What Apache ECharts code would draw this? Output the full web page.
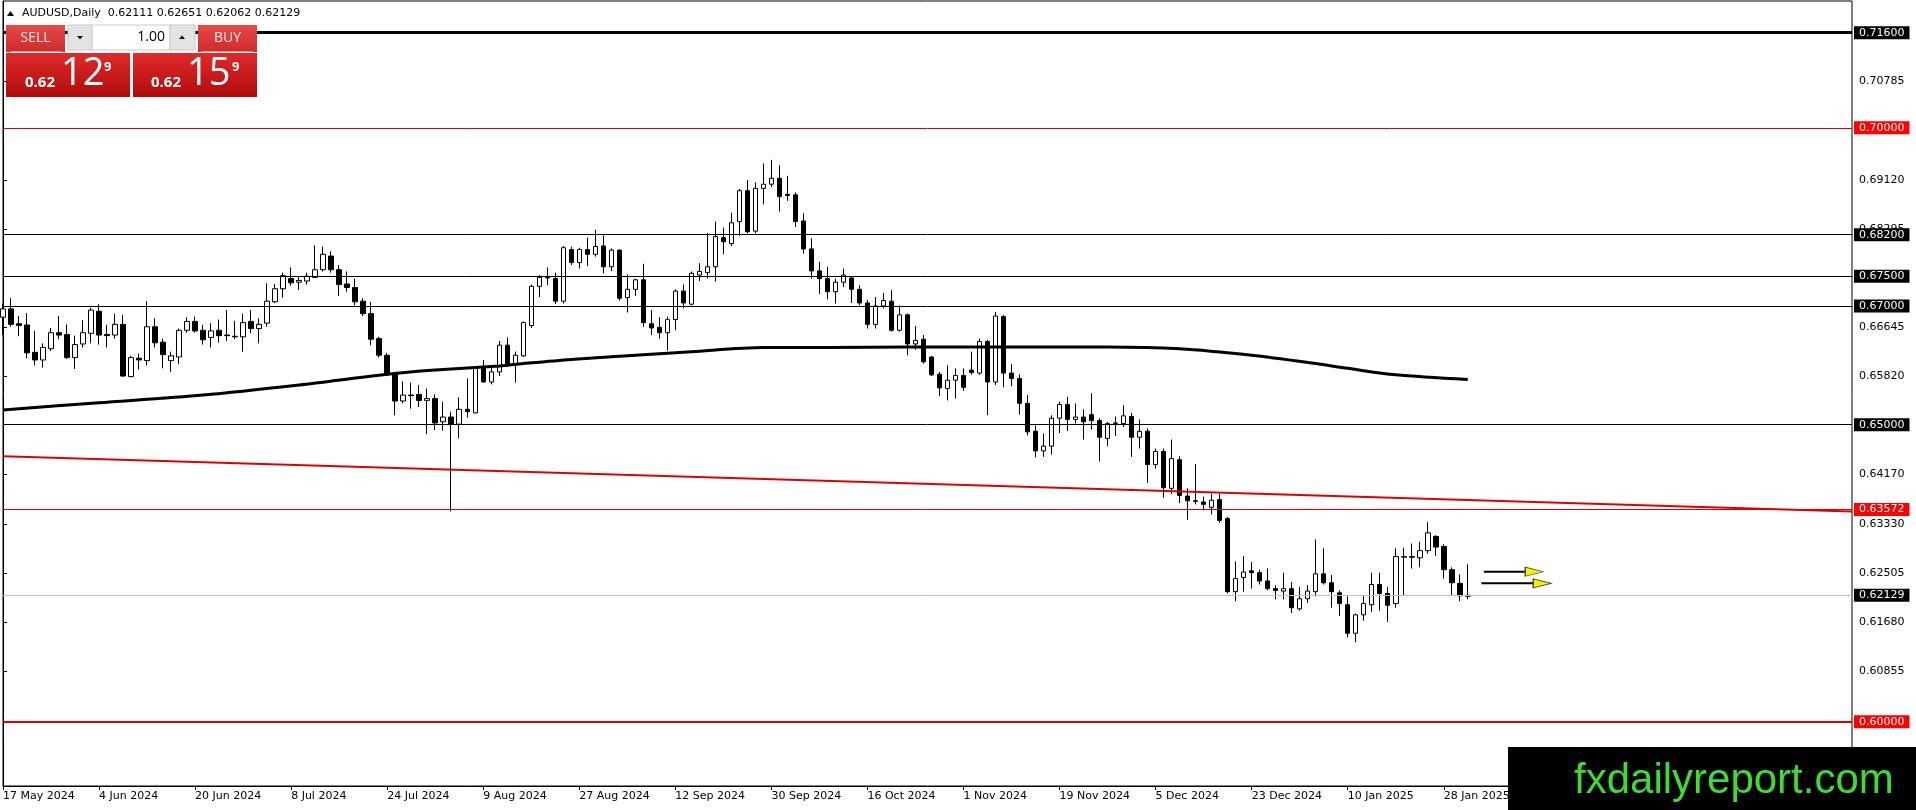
<!DOCTYPE html>
<html>
<head>
<meta charset="utf-8">
<script src="https://cdn.jsdelivr.net/npm/echarts@6/dist/echarts.min.js"></script>
<style>
html,body{margin:0;padding:0;background:#fff;}
#chart{width:1916px;height:810px;}
</style>
</head>
<body>
<div id="chart"></div>
<script>
// ---- data ----
const tickLabels = ['17 May 2024','4 Jun 2024','20 Jun 2024','8 Jul 2024','24 Jul 2024','9 Aug 2024','27 Aug 2024','12 Sep 2024','30 Sep 2024','16 Oct 2024','1 Nov 2024','19 Nov 2024','5 Dec 2024','23 Dec 2024','10 Jan 2025','28 Jan 2025'];
const labelStep = 12;
const slotCount = 232;

// [open, close, low, high] per daily bar
const ohlc = [
[0.6681,0.6695,0.6651,0.6704],[0.6695,0.6669,0.6665,0.6713],[0.6670,0.6667,0.6649,0.6683],[0.6668,0.6621,0.6612,0.6688],
[0.6622,0.6609,0.6600,0.6658],[0.6609,0.6630,0.6596,0.6637],[0.6628,0.6655,0.6624,0.6663],[0.6655,0.6651,0.6644,0.6683],
[0.6652,0.6613,0.6611,0.6669],[0.6613,0.6635,0.6594,0.6650],[0.6636,0.6655,0.6630,0.6676],[0.6654,0.6693,0.6637,0.6697],
[0.6691,0.6651,0.6635,0.6703],[0.6652,0.6650,0.6630,0.6668],[0.6651,0.6669,0.6645,0.6687],[0.6669,0.6582,0.6581,0.6685],
[0.6581,0.6613,0.6580,0.6616],[0.6612,0.6609,0.6593,0.6620],[0.6608,0.6665,0.6600,0.6708],[0.6665,0.6638,0.6630,0.6679],
[0.6639,0.6618,0.6595,0.6645],[0.6608,0.6616,0.6589,0.6623],[0.6614,0.6659,0.6602,0.6662],[0.6659,0.6674,0.6655,0.6681],
[0.6674,0.6658,0.6655,0.6682],[0.6659,0.6643,0.6635,0.6668],[0.6647,0.6658,0.6630,0.6671],[0.6659,0.6650,0.6638,0.6677],
[0.6651,0.6650,0.6641,0.6693],[0.6649,0.6648,0.6644,0.6675],[0.6648,0.6672,0.6623,0.6687],[0.6674,0.6662,0.6654,0.6693],
[0.6662,0.6669,0.6637,0.6679],[0.6671,0.6708,0.6665,0.6738],[0.6707,0.6729,0.6705,0.6737],[0.6729,0.6751,0.6714,0.6756],
[0.6746,0.6739,0.6734,0.6765],[0.6740,0.6743,0.6727,0.6750],[0.6742,0.6750,0.6736,0.6756],[0.6748,0.6761,0.6747,0.6802],
[0.6761,0.6787,0.6758,0.6800],[0.6784,0.6761,0.6756,0.6792],[0.6761,0.6736,0.6717,0.6769],[0.6737,0.6731,0.6724,0.6758],
[0.6731,0.6707,0.6701,0.6746],[0.6708,0.6687,0.6683,0.6713],[0.6687,0.6644,0.6634,0.6707],[0.6645,0.6617,0.6613,0.6648],
[0.6617,0.6584,0.6582,0.6621],[0.6586,0.6540,0.6516,0.6587],[0.6540,0.6550,0.6536,0.6573],[0.6550,0.6549,0.6527,0.6571],
[0.6551,0.6541,0.6530,0.6567],[0.6541,0.6544,0.6484,0.6561],[0.6544,0.6503,0.6491,0.6551],[0.6505,0.6513,0.6490,0.6539],
[0.6513,0.6501,0.6354,0.6522],[0.6501,0.6526,0.6477,0.6546],[0.6526,0.6522,0.6512,0.6578],[0.6520,0.6595,0.6519,0.6596],
[0.6595,0.6572,0.6571,0.6609],[0.6572,0.6589,0.6568,0.6600],[0.6589,0.6634,0.6582,0.6641],[0.6634,0.6602,0.6598,0.6647],
[0.6603,0.6617,0.6571,0.6623],[0.6616,0.6672,0.6614,0.6674],[0.6667,0.6733,0.6663,0.6736],[0.6733,0.6748,0.6715,0.6752],
[0.6748,0.6747,0.6735,0.6765],[0.6746,0.6708,0.6703,0.6756],[0.6708,0.6798,0.6704,0.6801],[0.6795,0.6773,0.6769,0.6800],
[0.6773,0.6795,0.6763,0.6798],[0.6795,0.6787,0.6767,0.6815],[0.6787,0.6800,0.6783,0.6828],[0.6801,0.6766,0.6755,0.6819],
[0.6766,0.6794,0.6759,0.6797],[0.6794,0.6713,0.6709,0.6795],[0.6714,0.6728,0.6689,0.6753],[0.6728,0.6744,0.6717,0.6746],
[0.6744,0.6672,0.6665,0.6771],[0.6670,0.6663,0.6651,0.6693],[0.6664,0.6655,0.6645,0.6681],[0.6655,0.6677,0.6625,0.6682],
[0.6677,0.6725,0.6659,0.6728],[0.6725,0.6705,0.6696,0.6736],[0.6703,0.6755,0.6701,0.6758],[0.6752,0.6758,0.6742,0.6772],
[0.6756,0.6766,0.6746,0.6823],[0.6766,0.6817,0.6741,0.6842],[0.6815,0.6808,0.6787,0.6832],[0.6805,0.6840,0.6801,0.6857],
[0.6842,0.6894,0.6818,0.6897],[0.6894,0.6825,0.6822,0.6912],[0.6826,0.6898,0.6822,0.6908],[0.6898,0.6905,0.6871,0.6940],
[0.6905,0.6915,0.6900,0.6946],[0.6915,0.6884,0.6859,0.6937],[0.6888,0.6886,0.6877,0.6919],[0.6887,0.6842,0.6833,0.6891],
[0.6843,0.6796,0.6788,0.6856],[0.6796,0.6759,0.6746,0.6814],[0.6759,0.6746,0.6720,0.6774],[0.6746,0.6724,0.6711,0.6766],
[0.6724,0.6740,0.6704,0.6746],[0.6740,0.6752,0.6732,0.6763],[0.6747,0.6728,0.6705,0.6749],[0.6728,0.6705,0.6701,0.6735],
[0.6705,0.6669,0.6662,0.6710],[0.6669,0.6700,0.6662,0.6715],[0.6700,0.6709,0.6696,0.6722],[0.6708,0.6659,0.6657,0.6727],
[0.6659,0.6685,0.6657,0.6701],[0.6685,0.6636,0.6617,0.6687],[0.6636,0.6642,0.6626,0.6666],[0.6644,0.6606,0.6603,0.6651],
[0.6614,0.6584,0.6582,0.6616],[0.6585,0.6562,0.6548,0.6589],[0.6561,0.6575,0.6541,0.6600],[0.6575,0.6583,0.6544,0.6595],
[0.6583,0.6563,0.6557,0.6595],[0.6592,0.6588,0.6584,0.6623],[0.6587,0.6640,0.6584,0.6645],[0.6640,0.6572,0.6516,0.6643],
[0.6572,0.6683,0.6567,0.6690],[0.6682,0.6587,0.6563,0.6685],[0.6587,0.6578,0.6565,0.6602],[0.6578,0.6536,0.6517,0.6585],
[0.6536,0.6488,0.6482,0.6550],[0.6489,0.6456,0.6445,0.6499],[0.6456,0.6464,0.6446,0.6485],[0.6464,0.6511,0.6450,0.6516],
[0.6511,0.6534,0.6486,0.6539],[0.6534,0.6509,0.6489,0.6547],[0.6509,0.6513,0.6502,0.6536],[0.6513,0.6505,0.6475,0.6526],
[0.6517,0.6507,0.6492,0.6553],[0.6507,0.6479,0.6438,0.6511],[0.6477,0.6502,0.6464,0.6505],[0.6502,0.6503,0.6481,0.6514],
[0.6502,0.6515,0.6496,0.6533],[0.6514,0.6479,0.6446,0.6520],[0.6479,0.6489,0.6460,0.6509],[0.6489,0.6433,0.6402,0.6494],
[0.6433,0.6455,0.6426,0.6460],[0.6455,0.6394,0.6377,0.6460],[0.6393,0.6443,0.6383,0.6475],[0.6441,0.6381,0.6368,0.6447],
[0.6380,0.6372,0.6340,0.6393],[0.6372,0.6371,0.6366,0.6434],[0.6370,0.6366,0.6356,0.6379],[0.6361,0.6373,0.6349,0.6384],
[0.6374,0.6339,0.6335,0.6384],[0.6342,0.6219,0.6216,0.6345],[0.6219,0.6241,0.6203,0.6270],[0.6243,0.6252,0.6219,0.6279],
[0.6254,0.6251,0.6224,0.6269],[0.6251,0.6237,0.6231,0.6256],[0.6237,0.6224,0.6221,0.6258],[0.6224,0.6221,0.6206,0.6230],
[0.6220,0.6224,0.6206,0.6251],[0.6224,0.6192,0.6183,0.6235],[0.6190,0.6207,0.6187,0.6227],[0.6207,0.6220,0.6200,0.6230],
[0.6219,0.6249,0.6211,0.6307],[0.6249,0.6234,0.6231,0.6292],[0.6234,0.6219,0.6192,0.6247],[0.6217,0.6199,0.6178,0.6221],
[0.6197,0.6149,0.6142,0.6211],[0.6149,0.6180,0.6134,0.6182],[0.6180,0.6199,0.6170,0.6213],[0.6197,0.6231,0.6185,0.6251],
[0.6231,0.6216,0.6187,0.6251],[0.6216,0.6196,0.6168,0.6227],[0.6199,0.6278,0.6192,0.6292],[0.6277,0.6278,0.6213,0.6293],
[0.6278,0.6277,0.6258,0.6300],[0.6276,0.6288,0.6260,0.6303],[0.6288,0.6318,0.6283,0.6336],[0.6312,0.6294,0.6279,0.6314],
[0.6295,0.6256,0.6241,0.6299],[0.6256,0.6234,0.6213,0.6260],[0.6233,0.6212,0.6203,0.6248],[0.62111,0.62129,0.62062,0.62651]
];

// moving average read at sampled bars: [bar index, value]
const maPoints = [[0,0.6525],[12,0.6537],[25,0.6550],[37,0.6567],[48,0.6585],[54,0.6592],[62,0.6599],[65,0.6603],
[71,0.6610],[78,0.6616],[86,0.6623],[95,0.6630],[103,0.6630],[113,0.6631],[121,0.6631],[130,0.6631],[138,0.6631],
[147,0.6628],[156,0.6617],[164,0.6603],[168,0.6595],[174,0.6584],[183,0.6576]];

// red trend line end points [bar index, price]
const trendLine = [[0,0.6447],[231,0.6354]];

// horizontal levels
const blackLevels = [0.682,0.675,0.670,0.650];
const redLevels = [0.700,0.63572];
const topLevel = 0.716;
const bottomLevel = 0.600;
const bidLevel = 0.62129;

// y-axis tick labels
const yTicks = [0.70785,0.69120,0.68295,0.66645,0.65820,0.64170,0.63330,0.62505,0.61680,0.60855];
const yMin = 0.58918, yMax = 0.72134;

// arrows [start index, end index, head index, price]
const arrows = [[185.0,190.2,191.3,0.62526],[184.7,191.2,192.3,0.62330]];

const titleText = 'AUDUSD,Daily  0.62111 0.62651 0.62062 0.62129';

// ---- build ----
const categories = [];
for (let i = 0; i < slotCount; i++) categories.push(String(i));
const FONT = 'DejaVu Sans';

function lvlLabel(txt, bg) {
  return {show:true, position:'end', distance:2, formatter: txt, backgroundColor:bg, color:'#fff',
    fontFamily:FONT, fontSize:11, lineHeight:12, padding:[1,5,0,5]};
}
const mlData = [];
mlData.push({yAxis: topLevel, lineStyle:{color:'#000', width:3, type:'solid'}, label: lvlLabel(topLevel.toFixed(5), '#000')});
redLevels.forEach(v => mlData.push({yAxis:v, lineStyle:{color:'#e00000', width:1, type:'solid'}, label: lvlLabel(v.toFixed(5), '#ff0000')}));
blackLevels.forEach(v => mlData.push({yAxis:v, lineStyle:{color:'#000', width:1, type:'solid'}, label: lvlLabel(v.toFixed(5), '#000')}));
mlData.push({yAxis: bidLevel, lineStyle:{color:'#c0c0c0', width:1, type:'solid'}, label: lvlLabel(bidLevel.toFixed(5), '#000')});
mlData.push({yAxis: bottomLevel, lineStyle:{color:'#e00000', width:2, type:'solid'}, label: lvlLabel(bottomLevel.toFixed(5), '#ff0000')});

const showIdx = (idx) => idx % labelStep === 0 && idx / labelStep < tickLabels.length;

const series = [
  {
    type:'candlestick', name:'AUDUSD', xAxisIndex:0, yAxisIndex:0, data: ohlc, barWidth:5, z:2,
    itemStyle:{color:'#ffffff', color0:'#000000', borderColor:'#000000', borderColor0:'#000000', borderColorDoji:'#000000', borderWidth:1}
  },
  {
    type:'line', name:'trend', xAxisIndex:1, yAxisIndex:0, data: trendLine, symbol:'none', z:3,
    lineStyle:{color:'#e00000', width:2},
    markLine:{silent:true, precision:5, symbol:['none','none'], animation:false, data: mlData}
  },
  {
    type:'line', name:'MA', xAxisIndex:1, yAxisIndex:0, data: maPoints, symbol:'none', smooth:0.3, z:4,
    lineStyle:{color:'#000', width:3}
  }
];
arrows.forEach((a, k) => {
  series.push({type:'line', name:'arrow'+k, xAxisIndex:1, yAxisIndex:0, data:[[a[0],a[3]],[a[1],a[3]]], symbol:'none', z:5,
    lineStyle:{color:'#000', width:2}});
});
series.push({type:'scatter', name:'heads', xAxisIndex:1, yAxisIndex:0, data: arrows.map(a => [a[2], a[3]]),
  symbol:'triangle', symbolSize:[9,18], symbolRotate:-90, z:6,
  itemStyle:{color:'#f2f200', borderColor:'#444', borderWidth:1, opacity:1}});

const redGrad = (c1, c2) => new echarts.graphic.LinearGradient(0,0,0,1,[{offset:0,color:c1},{offset:1,color:c2}]);

const graphic = [
  {type:'polygon', z:100, shape:{points:[[7,16],[10.5,11],[14,16]]}, style:{fill:'#000'}},
  {type:'text', z:100, x:22, y:13, style:{text:titleText, font:'11px "DejaVu Sans"', fill:'#000', verticalAlign:'middle'}},
  // SELL header
  {type:'rect', z:100, shape:{x:6,y:25,width:59,height:27}, style:{fill:redGrad('#e44a48','#cf2b2b')}},
  {type:'line', z:101, shape:{x1:10,y1:51.5,x2:62,y2:51.5}, style:{stroke:'#f08a8a', lineWidth:1}},
  {type:'text', z:101, x:35.5, y:38.5, style:{text:'SELL', font:'14px "Open Sans"', fill:'#ffe8e8', align:'center', verticalAlign:'middle'}},
  // lot controls
  {type:'rect', z:100, shape:{x:68,y:25,width:24,height:25}, style:{fill:'#e4e4e4', stroke:'#c8c8c8', lineWidth:1}},
  {type:'polygon', z:101, shape:{points:[[77,36],[83,36],[80,39.5]]}, style:{fill:'#000'}},
  {type:'rect', z:100, shape:{x:92,y:25,width:78,height:25}, style:{fill:'#fff', stroke:'#c8c8c8', lineWidth:1}},
  {type:'text', z:101, x:165, y:37.5, style:{text:'1.00', font:'14px "Open Sans"', fill:'#000', align:'right', verticalAlign:'middle'}},
  {type:'rect', z:100, shape:{x:170,y:25,width:25,height:25}, style:{fill:'#e4e4e4', stroke:'#c8c8c8', lineWidth:1}},
  {type:'polygon', z:101, shape:{points:[[179,39],[185,39],[182,35.5]]}, style:{fill:'#000'}},
  // BUY header
  {type:'rect', z:100, shape:{x:198,y:25,width:59,height:27}, style:{fill:redGrad('#e44a48','#cf2b2b')}},
  {type:'line', z:101, shape:{x1:201,y1:51.5,x2:253,y2:51.5}, style:{stroke:'#f08a8a', lineWidth:1}},
  {type:'text', z:101, x:227.5, y:38.5, style:{text:'BUY', font:'14px "Open Sans"', fill:'#ffe8e8', align:'center', verticalAlign:'middle'}},
  // price boxes
  {type:'rect', z:100, shape:{x:6,y:53,width:124,height:44}, style:{fill:redGrad('#e02a2a','#b00c0c')}},
  {type:'rect', z:100, shape:{x:133,y:53,width:124,height:44}, style:{fill:redGrad('#e02a2a','#b00c0c')}},
  {type:'text', z:101, x:25, y:82.5, style:{text:'0.62', font:'bold 15px "Open Sans"', fill:'#fff', verticalAlign:'middle'}},
  {type:'text', z:101, x:61, y:74, style:{text:'12', font:'38px "Open Sans"', fill:'#fff', verticalAlign:'middle'}},
  {type:'text', z:101, x:104, y:67, style:{text:'9', font:'bold 13px "Open Sans"', fill:'#fff', verticalAlign:'middle'}},
  {type:'text', z:101, x:151, y:82.5, style:{text:'0.62', font:'bold 15px "Open Sans"', fill:'#fff', verticalAlign:'middle'}},
  {type:'text', z:101, x:187, y:74, style:{text:'15', font:'38px "Open Sans"', fill:'#fff', verticalAlign:'middle'}},
  {type:'text', z:101, x:232, y:67, style:{text:'9', font:'bold 13px "Open Sans"', fill:'#fff', verticalAlign:'middle'}},
  // watermark
  {type:'rect', z:100, shape:{x:1508,y:747,width:408,height:63}, style:{fill:'#000'}},
  {type:'text', z:101, x:1574, y:781, style:{text:'fxdailyreport.com', font:'42px "Liberation Sans"', fill:'#3ddc2f', verticalAlign:'middle'}}
];

const option = {
  animation:false,
  backgroundColor:'#ffffff',
  grid:{left:3, right:64, top:1, bottom:24, show:true, borderColor:'#000', borderWidth:1, backgroundColor:'#fff'},
  xAxis:[
    {type:'category', data:categories, boundaryGap:false,
     axisLine:{show:true, lineStyle:{color:'#000', width:1}},
     axisTick:{show:true, interval:(i)=>showIdx(i), length:4, lineStyle:{color:'#000'}},
     axisLabel:{show:true, interval:(i)=>showIdx(i), formatter:(v, i)=> tickLabels[i/labelStep] || '', align:'left', margin:5,
       fontFamily:FONT, fontSize:11, color:'#000'},
     splitLine:{show:false}},
    {type:'value', min:0, max:slotCount-1, show:false}
  ],
  yAxis:[{type:'value', position:'right', min:yMin, max:yMax,
    axisLine:{show:true, lineStyle:{color:'#000', width:1}},
    axisTick:{show:true, customValues:yTicks, length:4, lineStyle:{color:'#000'}},
    axisLabel:{show:true, customValues:yTicks, formatter:(v)=>Number(v).toFixed(5), margin:7, fontFamily:FONT, fontSize:11, color:'#000'},
    splitLine:{show:false}}],
  series: series,
  graphic: graphic
};

const chart = echarts.init(document.getElementById('chart'), null, {renderer:'canvas'});
chart.setOption(option);
</script>
</body>
</html>
